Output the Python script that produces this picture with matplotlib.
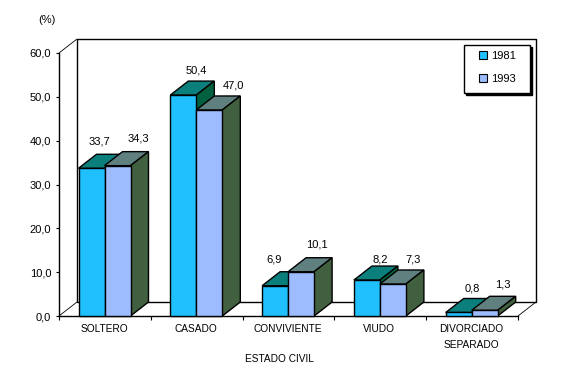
import matplotlib
matplotlib.use('Agg')
import matplotlib.pyplot as plt
from matplotlib.patches import Polygon, Patch, Rectangle

plt.rcParams['font.family'] = ['Liberation Sans', 'DejaVu Sans']

categories = ['SOLTERO', 'CASADO', 'CONVIVIENTE', 'VIUDO', 'DIVORCIADO\nSEPARADO']
series_names = ['1981', '1993']
values_1981 = [33.7, 50.4, 6.9, 8.2, 0.8]
values_1993 = [34.3, 47.0, 10.1, 7.3, 1.3]
yticks = [0, 10, 20, 30, 40, 50, 60]

W, H = 570, 371
# front plane of the chart in pixels
LEFT, RIGHT, TOP, BOTTOM = 59, 518, 53, 316
FS = 8.0       # numbers
FS_CAPS = 7.3  # upper case labels

# 3d look: depth of the box and of the bars, in data units
depth_x = 18 / ((RIGHT - LEFT) / 5)
depth_y = 14 / ((BOTTOM - TOP) / 60)
bar_w = 26 / ((RIGHT - LEFT) / 5)
gap = 19.5 / ((RIGHT - LEFT) / 5)

colors = {
    '1981': ('#20c0ff', '#0a7f7c', '#006040'),
    '1993': ('#9cbcff', '#608080', '#406040'),
}

# label offsets from the bar centre top, in pixels
label_off_1981 = [(7.5, 27), (12.5, 25), (-1.5, 26), (13.5, 21), (13.5, 23.5)]
label_off_1993 = [(20.5, 27), (24.5, 24), (15.5, 27), (20.5, 25), (18.5, 26)]

fig = plt.figure(figsize=(W / 100, H / 100), dpi=100)
ax = fig.add_axes([LEFT / W, 1 - BOTTOM / H, (RIGHT - LEFT) / W, (BOTTOM - TOP) / H])
ax.set_xlim(0, 5)
ax.set_ylim(0, 60)
ax.patch.set_visible(False)
for s in ['top', 'right']:
    ax.spines[s].set_visible(False)
for s in ['left', 'bottom']:
    ax.spines[s].set_linewidth(1.0)


def line(xs, ys, lw=1.0):
    ax.plot(xs, ys, color='black', lw=lw, clip_on=False, zorder=1, solid_capstyle='butt')


# back walls and floor
line([depth_x, depth_x, 5 + depth_x, 5 + depth_x, depth_x],
     [depth_y, 60 + depth_y, 60 + depth_y, depth_y, depth_y])
line([0, depth_x], [60, 60 + depth_y], 0.6)
line([0, depth_x], [0, depth_y], 0.6)
line([5, 5 + depth_x], [0, depth_y], 0.6)


def bar3d(x, v, cols, z):
    front, top, side = cols
    x2 = x + bar_w
    dx, dy = depth_x, depth_y
    faces = [
        ([(x, v), (x + dx, v + dy), (x2 + dx, v + dy), (x2, v)], top),
        ([(x2, 0), (x2 + dx, dy), (x2 + dx, v + dy), (x2, v)], side),
        ([(x, 0), (x, v), (x2, v), (x2, 0)], front),
    ]
    for pts, c in faces:
        ax.add_patch(Polygon(pts, closed=True, facecolor=c, edgecolor='black',
                             lw=1.0, clip_on=False, zorder=z))


for i, cat in enumerate(categories):
    x1 = i + gap
    x2 = x1 + bar_w
    bar3d(x1, values_1981[i], colors['1981'], 3 + i * 2)
    bar3d(x2, values_1993[i], colors['1993'], 4 + i * 2)
    ax.annotate(f'{values_1981[i]:.1f}'.replace('.', ','), (x1 + bar_w / 2, values_1981[i]),
                xytext=label_off_1981[i], textcoords='offset pixels',
                ha='center', va='center', fontsize=FS, annotation_clip=False, zorder=20)
    ax.annotate(f'{values_1993[i]:.1f}'.replace('.', ','), (x2 + bar_w / 2, values_1993[i]),
                xytext=label_off_1993[i], textcoords='offset pixels',
                ha='center', va='center', fontsize=FS, annotation_clip=False, zorder=20)

ax.set_yticks(yticks)
ax.set_yticklabels([f'{t:.1f}'.replace('.', ',') for t in yticks], fontsize=FS)
ax.tick_params(axis='y', length=2.5, width=0.8, pad=3)
ax.set_xticks(range(6))
ax.set_xticklabels([])
ax.tick_params(axis='x', length=3, width=0.8)

for i, cat in enumerate(categories):
    off = -13 - 8 * cat.count('\n')
    ax.annotate(cat, (i + 0.5, 0), xytext=(-1, off), textcoords='offset pixels',
                ha='center', va='center', fontsize=FS_CAPS, linespacing=1.8,
                annotation_clip=False)

fig.text(279 / W, 1 - 359 / H, 'ESTADO CIVIL', ha='center', va='center', fontsize=FS_CAPS)
fig.text(47 / W, 1 - 20 / H, '(%)', ha='center', va='center', fontsize=FS)

# legend box with its shadow
box_l, box_r, box_t, box_b = 464, 530, 45, 93
ax.add_patch(Rectangle(((box_l + 2) / W, 1 - (box_b + 2) / H), (box_r - box_l) / W, (box_b - box_t) / H,
                       transform=fig.transFigure, facecolor='black', edgecolor='black',
                       lw=1.0, clip_on=False, zorder=28))
ax.add_patch(Rectangle((box_l / W, 1 - box_b / H), (box_r - box_l) / W, (box_b - box_t) / H,
                       transform=fig.transFigure, facecolor='white', edgecolor='black',
                       lw=1.0, clip_on=False, zorder=29))

handles = [Patch(facecolor=colors[n][0], edgecolor='black', lw=0.8, label=n) for n in series_names]
leg = ax.legend(handles=handles, loc='center', bbox_to_anchor=(497.5 / W, 1 - 67.5 / H),
                bbox_transform=fig.transFigure, borderaxespad=0, frameon=False,
                fontsize=FS, handlelength=0.75, handleheight=0.75,
                handletextpad=0.35, labelspacing=1.15, borderpad=0)
leg.set_zorder(30)

fig.savefig('out.png', dpi=100)
